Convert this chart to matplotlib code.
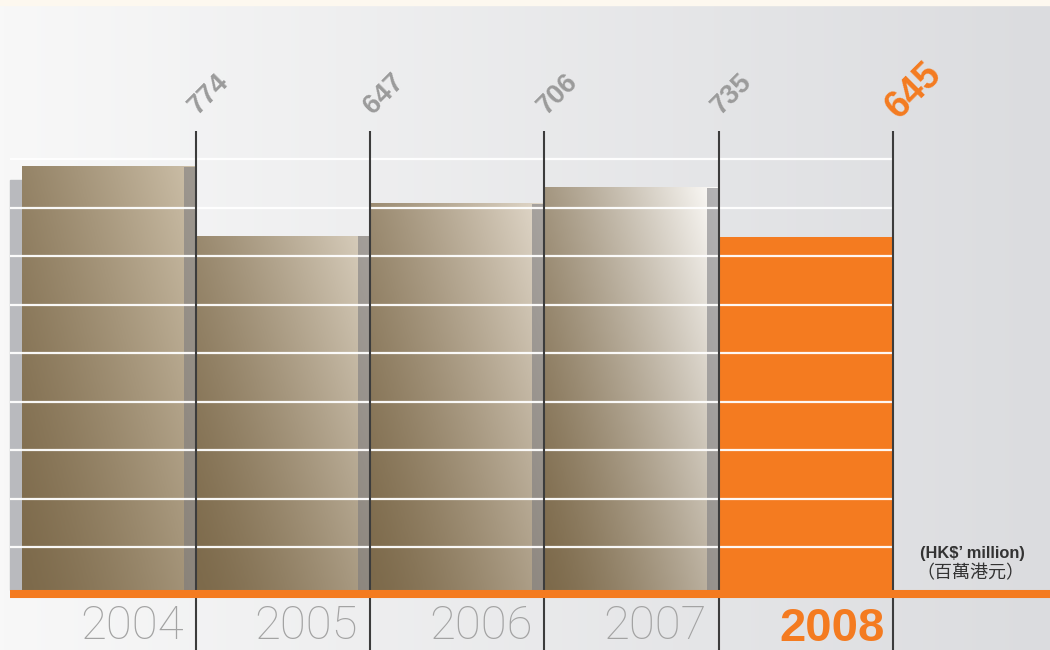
import numpy as np
import matplotlib.pyplot as plt
from matplotlib.colors import LinearSegmentedColormap, to_rgb
from matplotlib.patches import Rectangle

# data
years = ["2004", "2005", "2006", "2007", "2008"]
values = [774, 647, 706, 735, 645]
unit_en = "(HK$’ million)"
unit_zh = "（百萬港元）"

ORANGE = "#f47b20"
GREY_TXT = "#9b9b9b"
light_ends = ["#cdc0a9", "#dad0bf", "#e2d9cb", "#fefdfb"]

# pixel mapping of the original layout
W, H = 1050, 650
px_bar = 174.25      # px per bar
left_px = 21.5       # px where the first bar starts
px_val = 0.547       # px per HK$ million
base_px = 590        # baseline pixel row

fig = plt.figure(figsize=(W / 100, H / 100), dpi=100)
ax = fig.add_axes([0, 0, 1, 1])
ax.set_xlim(-left_px / px_bar, (W - left_px) / px_bar)
ax.set_ylim(-(H - base_px) / px_val, base_px / px_val)
ax.axis("off")

# background gradient
c0, c1 = np.array(to_rgb("#f8f8f8")), np.array(to_rgb("#dbdcdf"))
t = np.linspace(0, 1, 256)
bg = (c0[None, :] * (1 - t[:, None]) + c1[None, :] * t[:, None])[None, :, :]
ax.imshow(bg, extent=[0, 1, 0, 1], transform=ax.transAxes, aspect="auto", zorder=0)
ax.add_patch(Rectangle((0, 1 - 5 / H), 1, 5 / H, transform=ax.transAxes,
                       color="#fdf8ef", zorder=0.5))

x = np.arange(len(years))
bars = ax.bar(x, values, width=1, align="edge", color="none", zorder=2)

strip = 12 / px_bar
# shadow of the bar cut off on the left
ax.add_patch(Rectangle((-strip, 0), strip, (base_px - 180) / px_val,
                       color="#b9babe", zorder=1))

# gradient bars
gy, gx = np.mgrid[0:1:80j, 0:1:80j]
grad = (0.6 * gx + 0.4 * gy) ** 1.3
for b, light in zip(bars[:-1], light_ends):
    bx, bw, bh = b.get_x(), b.get_width(), b.get_height()
    cmap = LinearSegmentedColormap.from_list("g", ["#7d6a4b", light])
    ax.imshow(grad, cmap=cmap, origin="lower", extent=[bx, bx + bw, 0, bh],
              aspect="auto", zorder=2, interpolation="bilinear")
    ax.add_patch(Rectangle((bx + bw - strip, 0), strip, bh,
                           color="#77777c", alpha=0.55, lw=0, zorder=3))
bars[-1].set_facecolor(ORANGE)
bars[-1].set_zorder(2)

# white grid lines
grid_vals = np.arange(78.6, 800, 88.6)
ax.hlines(grid_vals, -strip, len(years), color="white", lw=1.6, alpha=0.95, zorder=4)

# vertical separators
line_top = (base_px - 131) / px_val
ax.vlines(x + 1, ax.get_ylim()[0], line_top, color="#3c3c3c", lw=1.5, zorder=5)

# orange baseline
ax.hlines(-4 / px_val, -strip, ax.get_xlim()[1], color=ORANGE, lw=5.8, zorder=6)

# value labels
for i, v in enumerate(values):
    last = i == len(values) - 1
    ax.annotate(str(v), xy=(i + 1, line_top),
                xytext=(6, 11) if last else (2.5, 16),
                textcoords="offset pixels", rotation=45, rotation_mode="anchor",
                ha="left", va="baseline", fontsize=27 if last else 19.5,
                fontweight="bold", family="Liberation Sans",
                color=ORANGE if last else GREY_TXT, zorder=7)

# year labels
for i, yr in enumerate(years):
    last = i == len(years) - 1
    if last:
        ax.text(i + 1 - 8 / px_bar, (base_px - 641) / px_val, yr,
                ha="right", va="baseline", fontsize=34, fontweight="bold",
                family="Liberation Sans", color=ORANGE, zorder=7)
    else:
        ax.text(i + 1 - 12 / px_bar, (base_px - 639) / px_val, yr,
                ha="right", va="baseline", fontsize=34, fontweight="light",
                family="Roboto", color="#a3a3a3", zorder=7)

# unit note
fig.text(920 / W, 1 - 558 / H, unit_en, fontsize=11.8, fontweight="bold",
         family="Liberation Sans", color="#333333")
fig.text(916 / W, 1 - 573 / H, unit_zh, fontsize=13, va="center",
         family=["Noto Sans CJK TC", "DejaVu Sans"], color="#333333")

fig.savefig("out.png", dpi=100)
